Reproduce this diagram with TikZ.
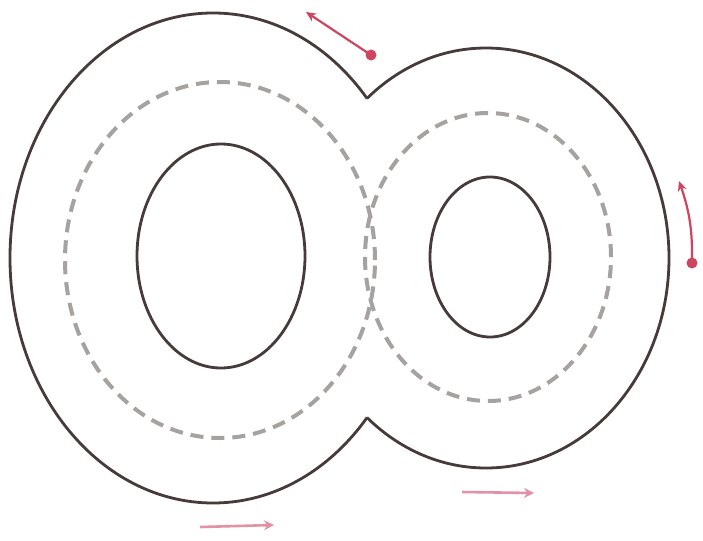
\documentclass[tikz,border=0pt]{standalone}
\usetikzlibrary{arrows.meta}
\definecolor{outline}{RGB}{70,58,58}
\definecolor{dashgray}{RGB}{165,162,160}
\definecolor{redarrow}{RGB}{205,70,95}
\definecolor{pinkarrow}{RGB}{228,145,165}
\tikzset{
  track/.style={draw=outline, line width=2.8pt},
  centerline/.style={draw=dashgray, line width=4pt, dash pattern=on 13pt off 8pt},
  redmove/.style={draw=redarrow, line width=2.2pt, -{Stealth[length=10pt,width=9pt]}},
  pinkmove/.style={draw=pinkarrow, line width=2.6pt, -{Stealth[length=10pt,width=10pt]}},
  startdot/.style={fill=redarrow, circle, inner sep=0pt, minimum size=11pt}
}
\begin{document}
\begin{tikzpicture}[x=1pt,y=-1pt]
\useasboundingbox (0,0) rectangle (703,540);
\fill[white] (0,0) rectangle (703,540);
% outer boundary: union of two ellipses
\begin{scope}[even odd rule]
  \clip (-10,-10) rectangle (713,550) (486,258) ellipse (183pt and 210pt);
  \path[track] (213,258) ellipse (203pt and 245pt);
\end{scope}
\begin{scope}[even odd rule]
  \clip (-10,-10) rectangle (713,550) (213,258) ellipse (203pt and 245pt);
  \path[track] (486,258) ellipse (183pt and 210pt);
\end{scope}
% dashed centre lines
\path[centerline] (220,260) ellipse (155pt and 178pt);
\path[centerline] (488,257) ellipse (123pt and 144pt);
% inner holes
\path[track] (221,256) ellipse (84pt and 112pt);
\path[track] (490,257) ellipse (60pt and 80pt);
% direction arrows
\node[startdot] (d1) at (371,55) {};
\coordinate (e1) at (306,12);
\draw[redmove] (d1.center) -- (e1);
\node[startdot] (d2) at (692,263) {};
\coordinate (e2) at (679,181);
\draw[redmove] (d2.center) to[bend right=10] (e2);
\coordinate (b1s) at (200,527);
\coordinate (b1e) at (274,525);
\draw[pinkmove] (b1s) -- (b1e);
\coordinate (b2s) at (462,492);
\coordinate (b2e) at (534,493);
\draw[pinkmove] (b2s) -- (b2e);
\end{tikzpicture}
\end{document}
